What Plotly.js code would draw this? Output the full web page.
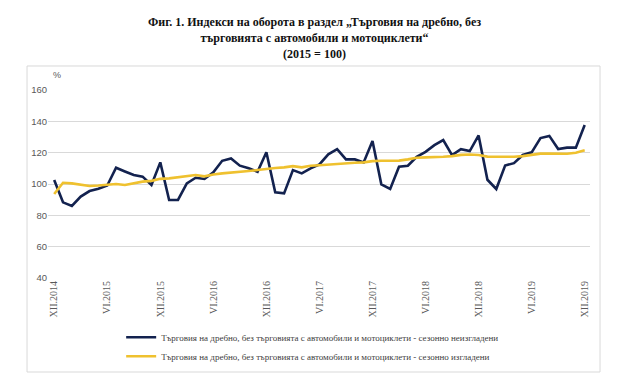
<!DOCTYPE html>
<html>
<head>
<meta charset="utf-8">
<script src="https://cdn.plot.ly/plotly-3.0.1.min.js"></script>
<style>
html,body{margin:0;padding:0;background:#fff;}
#chart{width:629px;height:388px;}
</style>
</head>
<body>
<div id="chart"></div>
<script>
// Month categories XII.2014 ... XII.2019
const romans = ["I","II","III","IV","V","VI","VII","VIII","IX","X","XI","XII"];
const months = ["XII.2014"];
for (let y = 2015; y <= 2019; y++) {
  for (let m = 0; m < 12; m++) months.push(romans[m] + "." + y);
}

const tickLabels = ["XII.2014","VI.2015","XII.2015","VI.2016","XII.2016","VI.2017",
                    "XII.2017","VI.2018","XII.2018","VI.2019","XII.2019"];

// Not seasonally adjusted
const unadjusted = [
  102.5, 88.3, 86.0, 92.0, 95.5, 97.0, 99.0, 110.4, 108.0, 105.7, 104.7, 99.4,
  113.8, 89.8, 89.8, 100.4, 104.0, 103.2, 107.4, 114.8, 116.3, 111.7, 110.0, 107.8,
  120.3, 94.7, 94.0, 108.9, 106.8, 110.0, 112.5, 118.9, 122.2, 115.7, 115.7, 113.8,
  127.4, 99.8, 96.8, 111.0, 111.7, 117.4, 120.5, 124.8, 128.0, 118.4, 122.2, 121.0,
  131.0, 102.7, 96.8, 111.8, 113.3, 118.5, 120.2, 129.3, 130.7, 122.3, 123.2, 123.2,
  137.6
];

// Seasonally adjusted
const adjusted = [
  93.6, 100.8, 100.4, 99.4, 98.7, 99.0, 99.4, 100.0, 99.4, 100.4, 101.5, 102.0,
  103.3, 103.6, 104.2, 104.7, 105.7, 104.9, 106.1, 106.8, 107.2, 107.8, 108.3, 108.9,
  109.7, 110.2, 110.6, 111.4, 110.6, 111.7, 112.0, 112.5, 112.7, 113.1, 113.6, 113.8,
  114.6, 114.8, 114.7, 114.9, 115.7, 116.8, 117.0, 117.0, 117.4, 117.8, 118.6, 118.8,
  118.5, 117.5, 117.4, 117.4, 117.4, 117.8, 118.6, 119.4, 119.5, 119.2, 119.3, 120.0,
  121.5
];

const seriesNames = [
  "Търговия на дребно, без търговията с автомобили и мотоциклети - сезонно неизгладени",
  "Търговия на дребно, без търговията с автомобили и мотоциклети - сезонно изгладени"
];

const traces = [
  {x: months, y: unadjusted, type: "scatter", mode: "lines", name: seriesNames[0],
   line: {color: "#13224f", width: 2.6}},
  {x: months, y: adjusted, type: "scatter", mode: "lines", name: seriesNames[1],
   line: {color: "#efc12f", width: 2.6}}
];

const layout = {
  width: 629, height: 388,
  margin: {l: 48, r: 39, t: 90, b: 110},
  paper_bgcolor: "#fff", plot_bgcolor: "#fff",
  title: {
    text: "<b>Фиг. 1. Индекси на оборота в раздел „Търговия на дребно, без<br>търговията с автомобили и мотоциклети“<br>(2015 = 100)</b>",
    font: {family: "Liberation Serif, Times New Roman, serif", size: 12, color: "#111"},
    x: 0.5, xanchor: "center", y: 0.932, yanchor: "top"
  },
  xaxis: {
    type: "category",
    range: [-0.7, 60.6],
    showgrid: false, zeroline: false, showline: false,
    tickmode: "array", tickvals: tickLabels, ticktext: tickLabels,
    tickangle: -90, ticks: "",
    tickfont: {family: "Liberation Serif, Times New Roman, serif", size: 10, color: "#595959"}
  },
  yaxis: {
    range: [40, 160], dtick: 20, tick0: 40,
    showgrid: true, gridcolor: "#d9d9d9", gridwidth: 1,
    zeroline: false, showline: false, ticks: "",
    tickfont: {family: "Liberation Sans, Arial, sans-serif", size: 9.5, color: "#595959"}
  },
  showlegend: true,
  legend: {
    orientation: "v", x: 0.135, xanchor: "left", y: -0.238, yanchor: "top",
    font: {family: "Liberation Serif, Times New Roman, serif", size: 9, color: "#404040"},
    itemwidth: 30, bgcolor: "rgba(0,0,0,0)"
  },
  annotations: [
    {text: "%", xref: "paper", yref: "paper", x: 0.016, y: 1.08, showarrow: false,
     xanchor: "center", yanchor: "middle",
     font: {family: "Liberation Sans, Arial, sans-serif", size: 9, color: "#595959"}}
  ],
  shapes: [
    {type: "rect", xref: "paper", yref: "paper", x0: -0.0387, x1: 1.0185, y0: -0.5, y1: 1.1277,
     line: {color: "#d9d9d9", width: 1}, fillcolor: "rgba(0,0,0,0)", layer: "below"}
  ]
};

Plotly.newPlot("chart", traces, layout, {displayModeBar: false, staticPlot: true});
</script>
</body>
</html>
